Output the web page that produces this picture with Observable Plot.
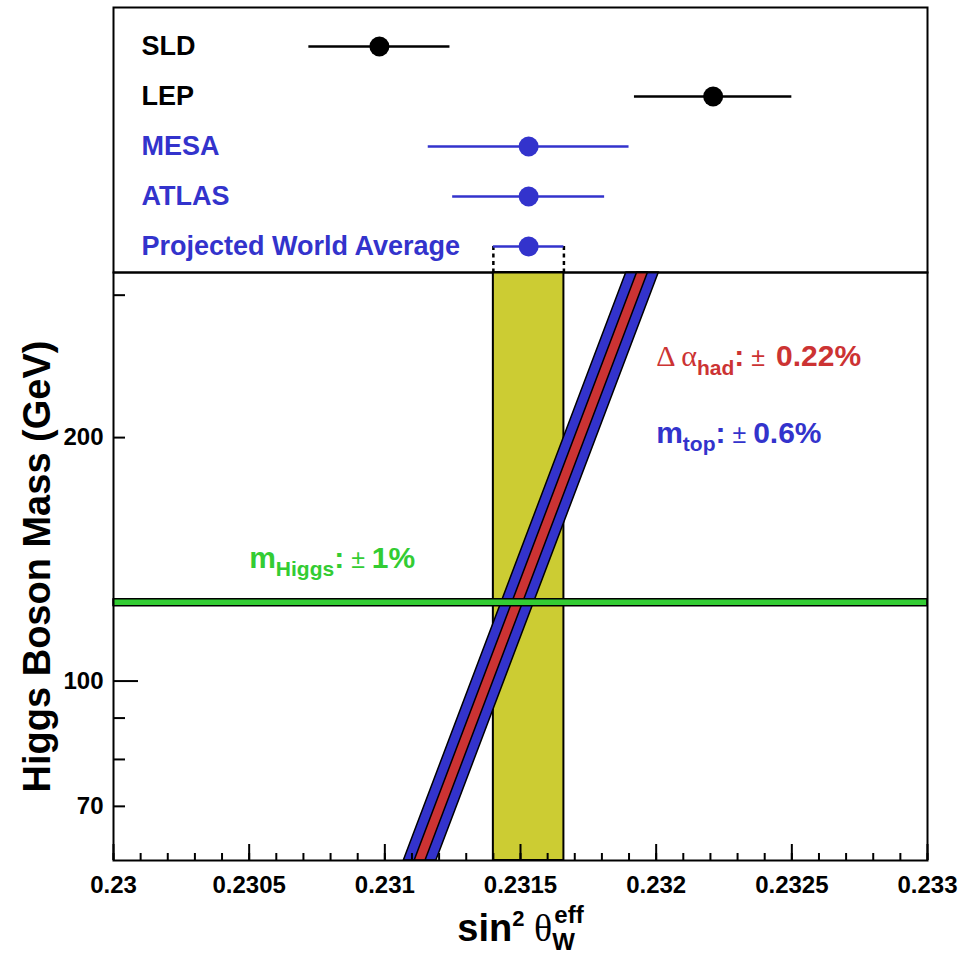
<!DOCTYPE html>
<html>
<head>
<meta charset="utf-8">
<script src="https://cdn.jsdelivr.net/npm/d3@7"></script>
<script src="https://cdn.jsdelivr.net/npm/@observablehq/plot@0.6"></script>
<style>
  html, body { margin: 0; padding: 0; background: #ffffff; }
  #chart { width: 960px; height: 954px; }
  #chart svg { display: block; overflow: visible; }
</style>
</head>
<body>
<div id="chart"></div>
<script>
// ---------------- data ----------------
const experiments   = ["SLD", "LEP", "MESA", "ATLAS", "Projected World Average"];
const sin2Values    = [0.23098, 0.23221, 0.23153, 0.23153, 0.23153];
const sin2Errors    = [0.00026, 0.00029, 0.00037, 0.00028, 0.00013];
const experimentKind = ["measured", "measured", "projected", "projected", "projected"];

// SM prediction band: sin^2 theta vs Higgs mass (straight in log m)
const bandMass = [60, 320];
const bandSin2 = [0.23113, 0.23195];
const mtopSin2Err  = 0.00006;   // m_top ± 0.6 %
const alphaSin2Err = 0.00002;   // Δα_had ± 0.22 %

const higgsMass = 125;
const higgsRelErr = 0.01;

const xDomain = [0.23, 0.233];
const yDomain = [60, 320];
const xTicks = [0.23, 0.2305, 0.231, 0.2315, 0.232, 0.2325, 0.233];
const xTickLabels = ["0.23", "0.2305", "0.231", "0.2315", "0.232", "0.2325", "0.233"];
const xMinorTicks = d3.range(0, 31).map(i => 0.23 + i * 0.0001);
const yTicksLabeled = [70, 100, 200];
const yTickLabels = ["70", "100", "200"];
const yMinorTicks = [70, 80, 90, 200, 300];
const yMajorTicks = [100];

const annotationText = ["Δ αhad: ± 0.22%", "mtop: ± 0.6%", "mHiggs: ± 1%"];
const annotationKind = ["alpha", "mtop", "mhiggs"];
const annotationSin2 = [0.232, 0.232, 0.2305];
const annotationMass = [245, 197, 138];

const yTitle = "Higgs Boson Mass (GeV)";
const xTitle = "sin2 θWeff";

// ---------------- styles ----------------
const BLUE = "#3333cc", RED = "#cc3333", GREEN = "#33cc33", YELLOW = "#cccc33";
const FONT = "'Liberation Sans', Arial, Helvetica, sans-serif";
const kindColor = {measured: "black", projected: BLUE, alpha: RED, mtop: BLUE, mhiggs: GREEN};

const rows = experiments.map((name, i) => ({name, v: sin2Values[i], e: sin2Errors[i], kind: experimentKind[i]}));
const pwa = rows[rows.length - 1];
const bandRows = bandMass.map((m, i) => ({m, s: bandSin2[i]}));
const annots = annotationText.map((text, i) => ({text, kind: annotationKind[i], x: annotationSin2[i], m: annotationMass[i]}));

const ML = 113, MR = 33;
const TOP_H = 272, ROW_FIRST = 45, ROW_LAST = 246;

// ---------------- upper panel ----------------
const topSvg = Plot.plot({
  width: 960, height: TOP_H,
  marginLeft: ML, marginRight: MR, marginTop: 7, marginBottom: 0,
  x: {domain: xDomain, axis: null},
  y: {type: "point", domain: experiments, range: [ROW_FIRST, ROW_LAST], padding: 0, axis: null},
  color: {type: "identity"},
  style: {fontFamily: FONT, background: "white"},
  marks: [
    // dashed drop lines from the projected world average down to the band
    Plot.ruleX([pwa.v - pwa.e, pwa.v + pwa.e], {x: d => d, y1: () => pwa.name, y2: () => pwa.name,
      insetBottom: -(TOP_H - ROW_LAST), stroke: "black", strokeWidth: 2.5, strokeDasharray: "4,3.5"}),
    Plot.ruleY(rows, {y: "name", x1: d => d.v - d.e, x2: d => d.v + d.e, stroke: d => kindColor[d.kind], strokeWidth: 2.5}),
    Plot.dot(rows, {x: "v", y: "name", r: 10, fill: d => kindColor[d.kind], stroke: null}),
    Plot.text(rows, {y: "name", text: "name", frameAnchor: "left", dx: 28, textAnchor: "start",
      fill: d => kindColor[d.kind], fontSize: 27, fontWeight: "bold"}),
    Plot.frame({stroke: "black", strokeWidth: 2})
  ]
});

// ---------------- lower panel ----------------
const botSvg = Plot.plot({
  width: 960, height: 954 - TOP_H,
  marginLeft: ML, marginRight: MR, marginTop: 0, marginBottom: 94,
  x: {domain: xDomain, label: null},
  y: {type: "log", domain: yDomain, label: null},
  color: {type: "identity"},
  style: {fontFamily: FONT, background: "white"},
  marks: [
    Plot.rect([pwa], {x1: d => d.v - d.e, x2: d => d.v + d.e, fill: YELLOW, stroke: "black", strokeWidth: 2}),
    Plot.areaX(bandRows, {y: "m", x1: d => d.s - mtopSin2Err, x2: d => d.s + mtopSin2Err, fill: BLUE, stroke: "black", strokeWidth: 1.5}),
    Plot.areaX(bandRows, {y: "m", x1: d => d.s - alphaSin2Err, x2: d => d.s + alphaSin2Err, fill: RED, stroke: "black", strokeWidth: 1.5}),
    Plot.areaY(xDomain, {x: d => d, y1: () => higgsMass * (1 - higgsRelErr), y2: () => higgsMass * (1 + higgsRelErr),
      fill: GREEN, stroke: "black", strokeWidth: 1.5}),
    Plot.text(annots, {x: "x", y: "m", text: "text", fill: d => kindColor[d.kind], textAnchor: "start",
      lineAnchor: "bottom", fontSize: 30, fontWeight: "bold"}),
    Plot.text([yTitle], {text: d => d, frameAnchor: "left", dx: -76, rotate: -90, textAnchor: "middle",
      fontSize: 38, fontWeight: "bold", fill: "black"}),
    Plot.text([xTitle], {text: d => d, frameAnchor: "bottom", dy: 80, lineAnchor: "bottom", textAnchor: "middle",
      fontSize: 38, fontWeight: "bold", fill: "black"}),
    Plot.axisX({ticks: xMinorTicks, tickSize: -7, tickFormat: () => "", strokeWidth: 2, label: null}),
    Plot.axisX({ticks: xTicks, tickSize: -16, tickFormat: () => "", strokeWidth: 2, label: null}),
    Plot.axisX({ticks: xTicks, tickSize: 0, tickPadding: 15, tickFormat: d => xTickLabels[xTicks.indexOf(d)],
      fontSize: 24, fontWeight: "bold", fill: "black", label: null}),
    Plot.axisY({ticks: yMinorTicks, tickSize: -12, tickFormat: () => "", strokeWidth: 2, label: null}),
    Plot.axisY({ticks: yMajorTicks, tickSize: -25, tickFormat: () => "", strokeWidth: 2, label: null}),
    Plot.axisY({ticks: yTicksLabeled, tickSize: 0, tickPadding: 10, tickFormat: d => yTickLabels[yTicksLabeled.indexOf(d)],
      fontSize: 24, fontWeight: "bold", fill: "black", label: null}),
    Plot.frame({stroke: "black", strokeWidth: 2})
  ]
});

// ---------------- rich text (sub/superscripts, Greek) ----------------
const SERIF = "'Liberation Serif', 'Times New Roman', serif";
const richText = {
  "Δ αhad: ± 0.22%":
    `<tspan font-family="${SERIF}" font-weight="normal">Δ α</tspan><tspan font-size="21" dy="9">had</tspan><tspan dy="-9">:</tspan><tspan font-weight="normal" font-size="25"> ± </tspan><tspan dx="4">0.22%</tspan>`,
  "mtop: ± 0.6%":
    `<tspan>m</tspan><tspan font-size="21" dy="8">top</tspan><tspan dy="-8">:</tspan><tspan font-weight="normal" font-size="25"> ± </tspan><tspan>0.6%</tspan>`,
  "mHiggs: ± 1%":
    `<tspan>m</tspan><tspan font-size="21" dy="8">Higgs</tspan><tspan dy="-8">:</tspan><tspan font-weight="normal" font-size="25"> ± </tspan><tspan>1%</tspan>`,
  "sin2 θWeff":
    `<tspan>sin</tspan><tspan font-size="22" dy="-15">2</tspan><tspan dy="15" font-family="${SERIF}" font-weight="normal"> θ</tspan><tspan font-size="24" dy="9">W</tspan><tspan font-size="24" dy="-27" dx="-20">eff</tspan>`
};
for (const svg of [topSvg, botSvg]) {
  svg.querySelectorAll("text").forEach(t => {
    const h = richText[t.textContent];
    if (h) { t.innerHTML = h; t.style.whiteSpace = "pre"; }
  });
}

const chart = document.getElementById("chart");
chart.appendChild(topSvg);
chart.appendChild(botSvg);
</script>
</body>
</html>
